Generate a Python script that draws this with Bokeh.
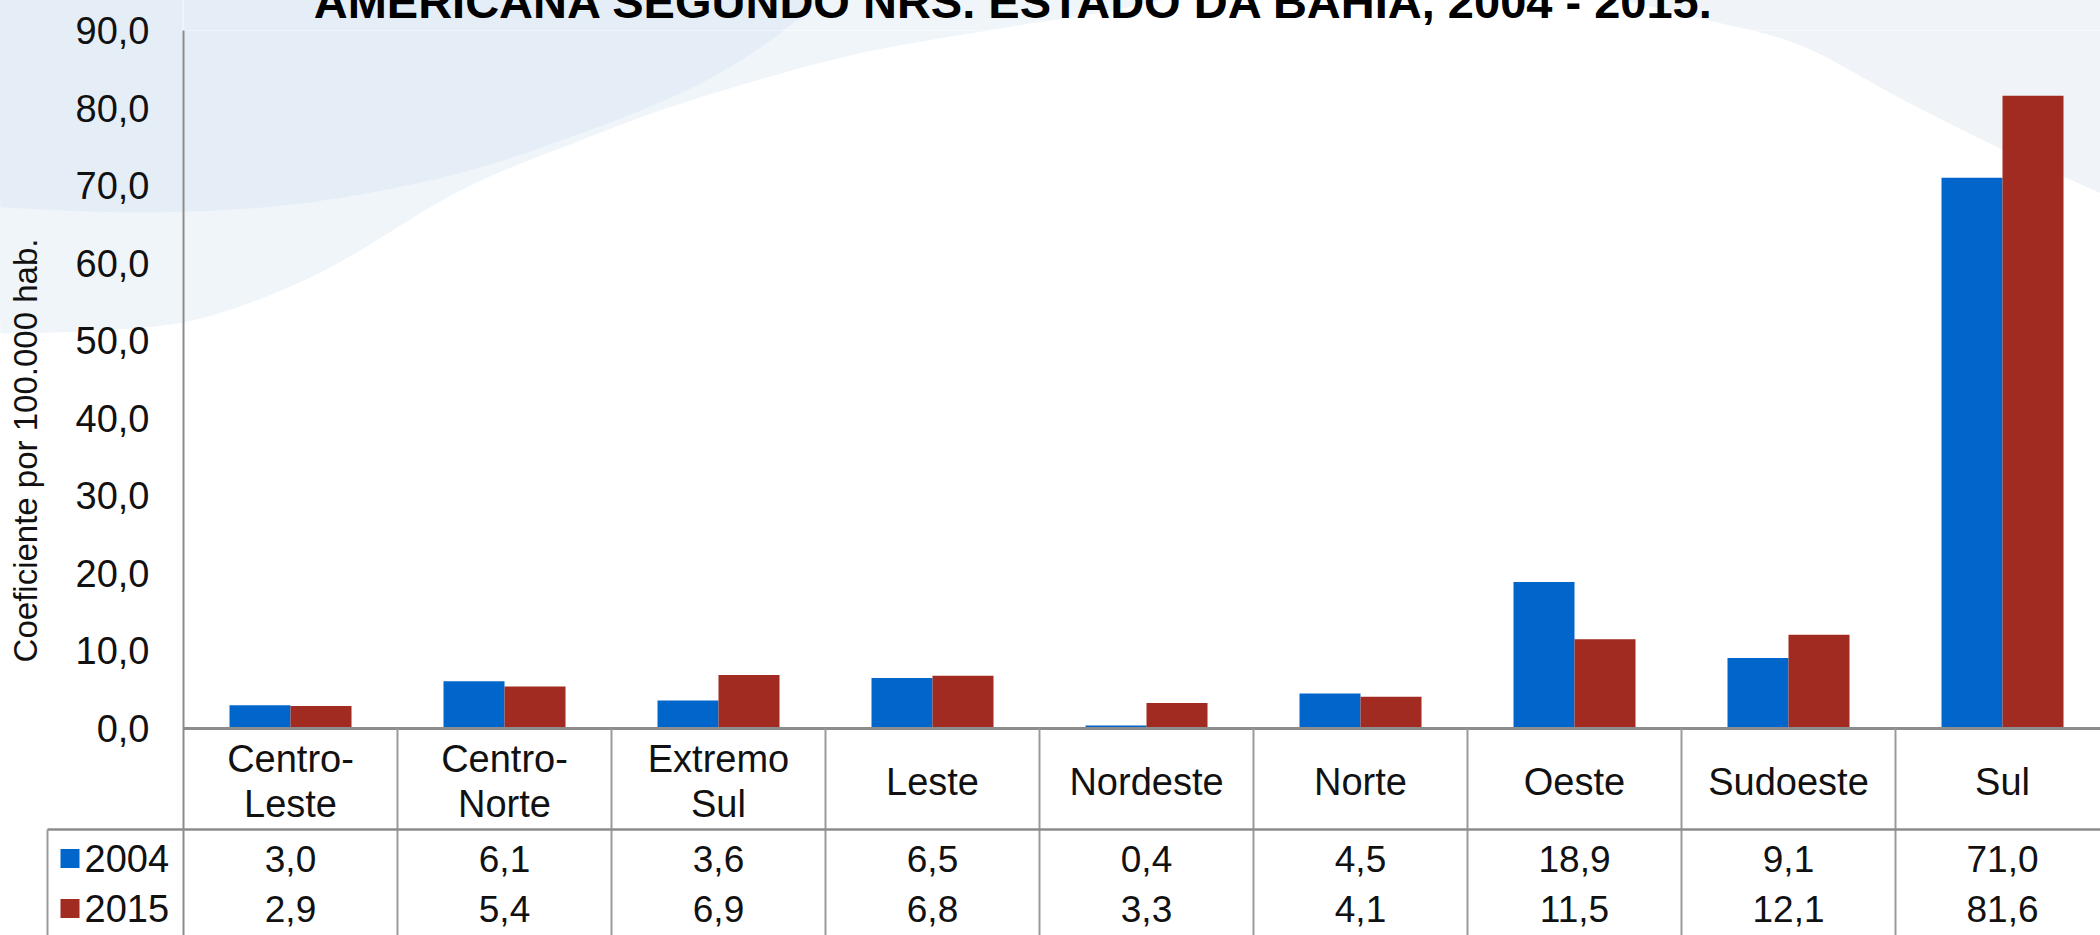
import math
import numpy as np
from bokeh.plotting import figure
from bokeh.models import Range1d, FixedTicker, ColumnDataSource
from bokeh.core.properties import value
from bokeh.embed import file_html
from bokeh.resources import INLINE

# ---------------- data ----------------
categories = ["Centro-\nLeste", "Centro-\nNorte", "Extremo\nSul", "Leste", "Nordeste",
              "Norte", "Oeste", "Sudoeste", "Sul"]
series_names = ["2004", "2015"]
values_2004 = [3.0, 6.1, 3.6, 6.5, 0.4, 4.5, 18.9, 9.1, 71.0]
values_2015 = [2.9, 5.4, 6.9, 6.8, 3.3, 4.1, 11.5, 12.1, 81.6]
y_ticks = [0, 10, 20, 30, 40, 50, 60, 70, 80, 90]
title_text = "AMERICANA SEGUNDO NRS. ESTADO DA BAHIA, 2004 - 2015."
y_title = "Coeficiente por 100.000 hab."

# ---------------- style ----------------
BLUE = "#0066CC"
RED = "#A12A21"
GRID = "#8c8c8c"
FONT = "Liberation Sans"
W, H = 2100, 935

# layout helpers (page pixel -> data units)
X0_PX, CAT_PX = 183.0, 214.0
Y0_PX, UNIT_PX = 728.0, 698.0 / 90.0


def dx(px):
    return -0.5 + (px - X0_PX) / CAT_PX


def dy(py):
    return (Y0_PX - py) / UNIT_PX


def smooth(pts, k=12):
    """Catmull-Rom smoothing of a decorative outline (page pixels)."""
    pts = np.asarray(pts, float)
    P = np.vstack([pts[0], pts, pts[-1]])
    out = []
    for i in range(1, len(P) - 2):
        p0, p1, p2, p3 = P[i - 1], P[i], P[i + 1], P[i + 2]
        for t in np.linspace(0, 1, k, endpoint=False):
            t2, t3 = t * t, t * t * t
            out.append(0.5 * ((2 * p1) + (-p0 + p2) * t + (2 * p0 - 5 * p1 + 4 * p2 - p3) * t2
                              + (-p0 + 3 * p1 - 3 * p2 + p3) * t3))
    out.append(P[-2])
    return np.array(out)


n = len(categories)
idx = list(range(n))
y_bottom = dy(H)

p = figure(width=W, height=H,
           x_range=Range1d(-0.5, dx(W)), y_range=Range1d(y_bottom, 90),
           output_backend="svg", toolbar_location=None, title=None,
           x_axis_location=None,
           min_border_left=183, min_border_top=30, min_border_right=0, min_border_bottom=0)
p.outline_line_color = None
p.xgrid.visible = False
p.ygrid.visible = False
p.background_fill_color = "white"
p.border_fill_color = "white"

# ---------------- background swooshes ----------------
curve_b = [(0, 333), (100, 330), (200, 318), (320, 272), (460, 190), (580, 140),
           (690, 100), (850, 55), (1000, 28), (1100, 12), (1210, -10)]
curve_a = [(0, 207), (150, 212), (300, 203), (450, 175), (580, 133), (690, 88),
           (770, 40), (830, -10)]
curve_c = [(1580, -10), (1700, 18), (1800, 45), (1900, 98), (2000, 148), (2110, 197)]


def region(curve, corner):
    c = smooth(curve)
    return np.vstack([c, corner])


bg_b = region(curve_b, [(-10, -10)])
bg_a = region(curve_a, [(-10, -10)])
bg_c = region(curve_c, [(2110, -10)])
for poly, col in [(bg_b, "#f0f5fa"), (bg_a, "#e5eef7"), (bg_c, "#f0f4f9")]:
    p.patch([dx(a) for a in poly[:, 0]], [dy(b) for b in poly[:, 1]],
            fill_color=col, line_color=None)

# parts of the swooshes that lie outside the frame (left margin and top strip)
for poly, col in [(bg_b, "#f0f5fa"), (bg_a, "#e5eef7")]:
    xs = np.minimum(poly[:, 0], 182)
    r = p.patch([dx(a) for a in xs], [dy(b) for b in poly[:, 1]],
                fill_color=col, line_color=None)
    r.level = "guide"
for poly, col in [(bg_b, "#f0f5fa"), (bg_a, "#e5eef7"), (bg_c, "#f0f4f9")]:
    xs = np.maximum(poly[:, 0], 183)
    ys = np.minimum(poly[:, 1], 29.5)
    r = p.patch([dx(a) for a in xs], [dy(b) for b in ys],
                fill_color=col, line_color=None)
    r.level = "guide"

# ---------------- bars ----------------
bw = 61.0 / CAT_PX
src = ColumnDataSource(dict(
    x1=[i - bw / 2 for i in idx], x2=[i + bw / 2 for i in idx],
    v1=values_2004, v2=values_2015))
p.vbar(x="x1", top="v1", bottom=0, width=bw, source=src, fill_color=BLUE, line_color=None)
p.vbar(x="x2", top="v2", bottom=0, width=bw, source=src, fill_color=RED, line_color=None)

# ---------------- y axis ----------------
ax = p.yaxis[0]
ax.ticker = FixedTicker(ticks=y_ticks)
ax.major_label_overrides = {t: f"{t:.1f}".replace(".", ",") for t in y_ticks}
ax.major_tick_line_color = None
ax.minor_tick_line_color = None
ax.major_tick_out = 0
ax.major_tick_in = 0
ax.axis_line_color = GRID
ax.axis_line_width = 2
ax.major_label_standoff = 34
ax.major_label_text_font = FONT
ax.major_label_text_font_size = "38px"
ax.major_label_text_color = "#111111"

# ---------------- data table ----------------
sep_y = dy(829)
p.segment(x0=[-0.5], y0=[0], x1=[dx(W + 10)], y1=[0], line_color=GRID, line_width=3)
hl = p.segment(x0=[dx(47)], y0=[sep_y], x1=[dx(W + 10)], y1=[sep_y], line_color=GRID, line_width=2.5)
hl.level = "overlay"
p.segment(x0=[i + 0.5 for i in idx[:-1]], y0=[0] * (n - 1),
          x1=[i + 0.5 for i in idx[:-1]], y1=[y_bottom] * (n - 1),
          line_color="#9a9a9a", line_width=2)
vl = p.segment(x0=[dx(47)], y0=[sep_y], x1=[dx(47)], y1=[y_bottom],
               line_color="#9a9a9a", line_width=2)
vl.level = "overlay"

# category labels
p.text(x=idx, y=[dy(781)] * n, text=categories, text_font=value(FONT),
       text_font_size="38px", text_align="center", text_baseline="middle",
       text_line_height=1.09, text_color="#111111")

# values
fmt = lambda v: f"{v:.1f}".replace(".", ",")
row_y = [dy(858), dy(908)]
for vals, yy in zip([values_2004, values_2015], row_y):
    r = p.text(x=idx, y=[yy] * n, text=[fmt(v) for v in vals], text_font=value(FONT),
               text_font_size="37px", text_align="center", text_baseline="middle",
               text_color="#111111")
    r.level = "overlay"

# legend column: colour keys and series names
for col, yy in zip([BLUE, RED], row_y):
    k = p.segment(x0=[dx(60)], y0=[yy], x1=[dx(79)], y1=[yy], line_color=col,
                  line_width=19, line_cap="butt")
    k.level = "overlay"
lt = p.text(x=[dx(84)] * 2, y=row_y, text=series_names, text_font=value(FONT),
            text_font_size="38px", text_align="left", text_baseline="middle",
            text_color="#111111")
lt.level = "overlay"

# y axis title
yt = p.text(x=[dx(25)], y=[dy(450)], text=[y_title], angle=math.pi / 2,
            text_font=value(FONT), text_font_size="33px", text_align="center",
            text_baseline="middle", text_color="#111111")
yt.level = "overlay"

# title (cut at top, as in the reference)
tt = p.text(x=[dx(1014)], y=[dy(1)], text=[title_text], text_font=value(FONT),
            text_font_style="bold", text_font_size="47px", text_align="center",
            text_baseline="alphabetic", text_color="#000000")
tt.level = "overlay"

open("out.html", "w").write(file_html(p, INLINE))
